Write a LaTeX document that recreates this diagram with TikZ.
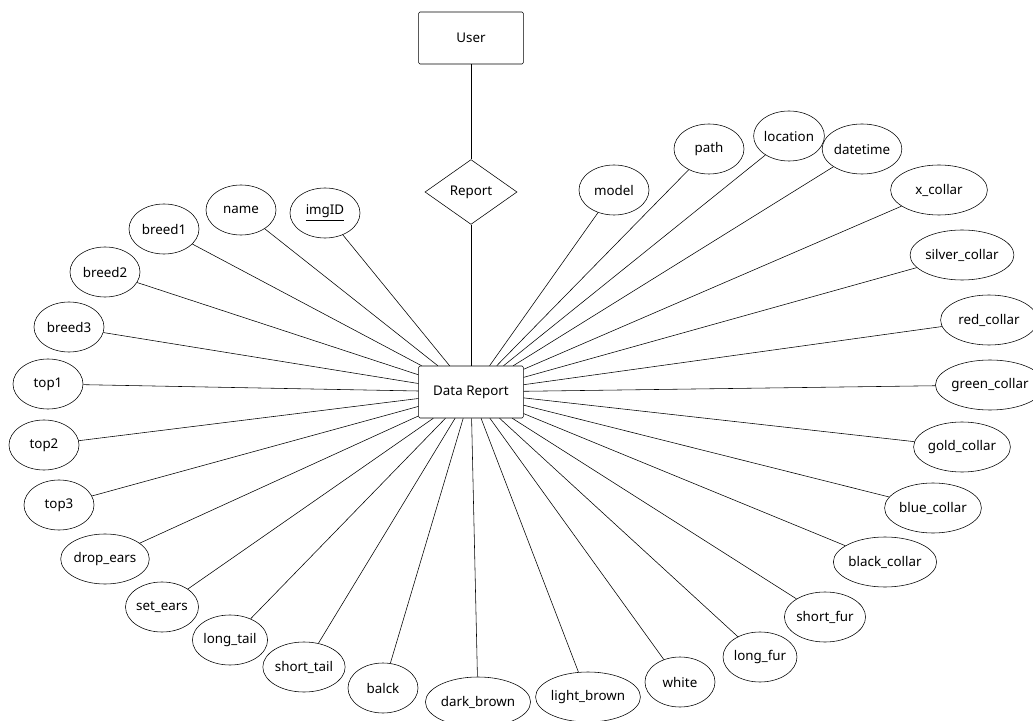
\documentclass[tikz,border=0pt]{standalone}
\usepackage{fontspec}
\setmainfont{Noto Sans}
\usepackage{tikz}
\usetikzlibrary{shapes.geometric}
\tikzstyle{entity}=[rectangle,draw,rounded corners=1pt,fill=white,text=black,minimum width=2.62cm,minimum height=1.3cm]
\tikzstyle{rel}=[diamond,draw,fill=white,inner sep=0pt,minimum width=2.3cm,minimum height=1.62cm]
\tikzstyle{attr}=[ellipse,draw,fill=white,inner sep=0pt,minimum width=1.75cm,minimum height=1.25cm]
\tikzstyle{wattr}=[attr,minimum width=2.42cm]
\tikzstyle{link}=[-,thin]

\begin{document}
\begin{tikzpicture}[x=0.025cm,y=-0.025cm,font=\fontsize{9.5}{11}\selectfont]
  \useasboundingbox (0,0) rectangle (1033,721);

  \node[entity] (U) at (471,38) {User};
  \node[rel] (R) at (471,192) {Report};
  \node[entity] (D) at (471,392) {Data Report};

  % left side
  \node[attr] (imgID) at (325,213) {\underline{imgID}};
  \node[attr] (name) at (241,210) {name};
  \node[attr] (breed1) at (164,229) {breed1};
  \node[attr] (breed2) at (105,272) {breed2};
  \node[attr] (breed3) at (69,327) {breed3};
  \node[attr] (top1) at (48,384) {top1};
  \node[attr] (top2) at (44,445) {top2};
  \node[attr] (top3) at (59,505) {top3};
  \node[attr] (dropears) at (105,559) {drop\_ears};
  \node[attr] (setears) at (162,607) {set\_ears};
  \node[attr] (longtail) at (230,640) {long\_tail};
  \node[attr] (shorttail) at (304,667) {short\_tail};
  \node[attr] (balck) at (383,688) {balck};
  \node[attr,minimum width=2.25cm] (darkbrown) at (478,702) {dark\_brown};

  % right side
  \node[attr,minimum width=2.25cm] (lightbrown) at (588,697) {light\_brown};
  \node[attr] (white) at (680,682) {white};
  \node[attr] (longfur) at (760,657) {long\_fur};
  \node[attr] (shortfur) at (825,617) {short\_fur};
  \node[wattr] (blackc) at (885,562) {black\_collar};
  \node[wattr] (bluec) at (933,508) {blue\_collar};
  \node[wattr] (goldc) at (962,447) {gold\_collar};
  \node[wattr] (greenc) at (990,385) {green\_collar};
  \node[wattr] (redc) at (989,320) {red\_collar};
  \node[wattr] (silverc) at (962,255) {silver\_collar};
  \node[wattr] (xc) at (939,190) {x\_collar};
  \node[attr] (datetime) at (862,149) {datetime};
  \node[attr] (location) at (789,136) {location};
  \node[attr] (path) at (709,149) {path};
  \node[attr] (model) at (614,190) {model};

  \draw[link] (U)--(R); \draw[link] (R)--(D);
  %
  \draw[link] (D)--(imgID); \draw[link] (D)--(name); \draw[link] (D)--(breed1);
  \draw[link] (D)--(breed2); \draw[link] (D)--(breed3); \draw[link] (D)--(top1);
  \draw[link] (D)--(top2); \draw[link] (D)--(top3); \draw[link] (D)--(dropears);
  \draw[link] (D)--(setears); \draw[link] (D)--(longtail); \draw[link] (D)--(shorttail);
  \draw[link] (D)--(balck); \draw[link] (D)--(darkbrown);
  %
  \draw[link] (D)--(lightbrown); \draw[link] (D)--(white); \draw[link] (D)--(longfur);
  \draw[link] (D)--(shortfur); \draw[link] (D)--(blackc); \draw[link] (D)--(bluec);
  \draw[link] (D)--(goldc); \draw[link] (D)--(greenc); \draw[link] (D)--(redc);
  \draw[link] (D)--(silverc); \draw[link] (D)--(xc); \draw[link] (D)--(datetime);
  \draw[link] (D)--(location); \draw[link] (D)--(path); \draw[link] (D)--(model);

\end{tikzpicture}
\end{document}
